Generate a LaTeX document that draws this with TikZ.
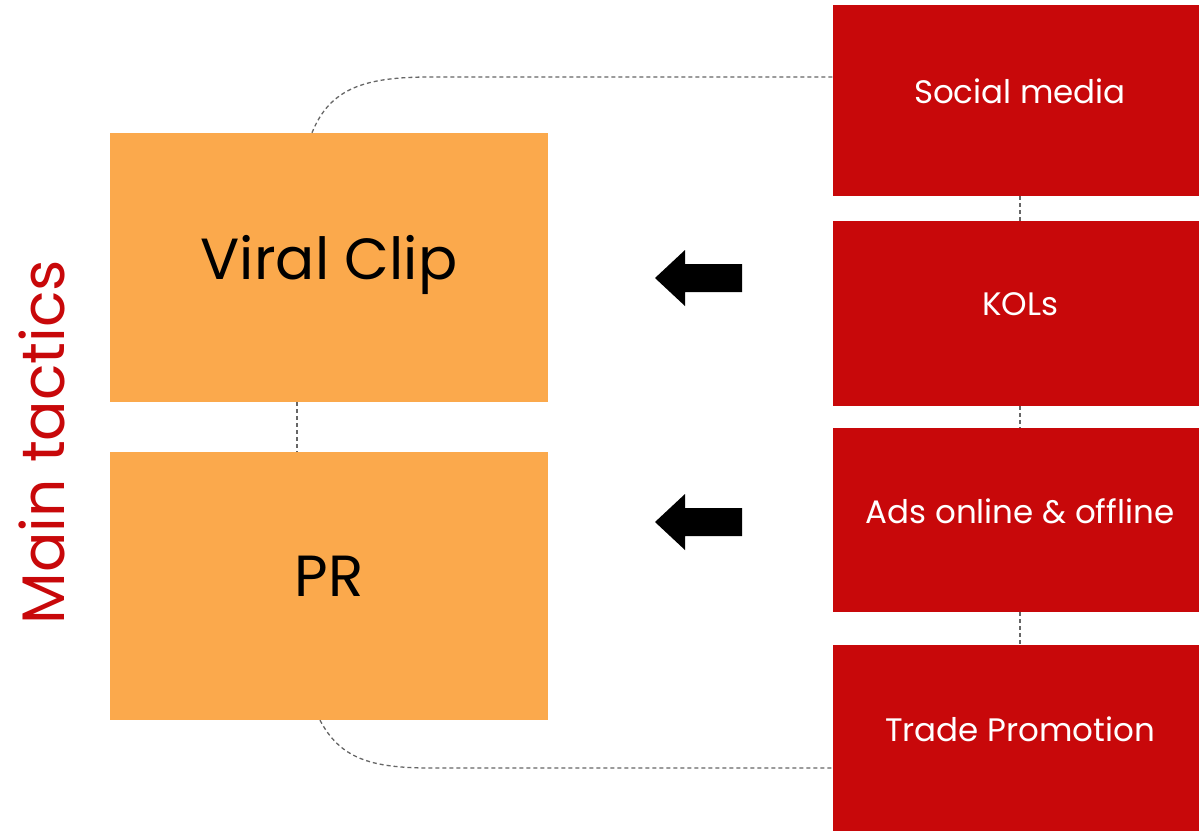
\documentclass[tikz,border=0pt]{standalone}
\usepackage{fontspec}
\setmainfont{Poppins}
\usepackage{xcolor}
\usetikzlibrary{positioning}
\definecolor{tacred}{HTML}{C8080A}
\definecolor{tacorange}{HTML}{FBA94C}
\tikzset{
  tactic/.style={fill=tacorange, minimum width=438, minimum height=269, inner sep=0pt,
    text depth=20pt, font=\fontsize{58}{64}\selectfont},
  channel/.style={fill=tacred, text=white, minimum width=374, inner sep=0pt,
    text depth=18pt, font=\fontsize{32.5}{38}\selectfont},
  link/.style={draw=black!60, dash pattern=on 4pt off 3pt, line width=1.3pt},
}

\begin{document}
\begin{tikzpicture}[x=1pt,y=-1pt]
        \useasboundingbox (0,0) rectangle (1199,831);

        % main tactics
        \node[tactic] (vclip) at (329,267.5) {Viral Clip};
        \node[tactic, minimum height=268] (pr) at (329,586) {PR};

        % channels
        \node[channel, minimum height=191] (social) at (1020,100.5) {Social media};
        \node[channel, minimum height=185] (kols) at (1020,313.5) {KOLs};
        \node[channel, minimum height=184] (ads) at (1020,520) {Ads online \& offline};
        \node[channel, minimum height=186] (trade) at (1020,738) {Trade Promotion};

        \node[rotate=90, text=tacred, font=\fontsize{60}{64}\selectfont] (title) at (42,442) {Main tactics};

        % dashed links
        \coordinate (topend) at (social.west |- 0,77);
        \coordinate (botend) at (trade.west |- 0,768);
        \draw[link] ([xshift=-17pt]vclip.north) .. controls (330,88) and (365,77) .. (430,77) -- (topend);
        \draw[link] ([xshift=-9pt]pr.south) .. controls (340,758) and (370,768) .. (430,768) -- (botend);
        \draw[link] ([xshift=-32pt]vclip.south) -- ([xshift=-32pt]pr.north);
        \draw[link] (social.south) -- (kols.north);
        \draw[link] (kols.south) -- (ads.north);
        \draw[link] (ads.south) -- (trade.north);

        % block arrows
        \coordinate (arr1) at (742,278);
        \coordinate (arr2) at (742,522);
        \foreach \a in {arr1,arr2} {
          \fill[black] (\a) ++(0,-14) -- ++(-57,0) -- ++(0,-14) -- ++(-30,28) -- ++(30,28) -- ++(0,-14) -- ++(57,0) -- cycle;
        }

    \end{tikzpicture}
\end{document}
